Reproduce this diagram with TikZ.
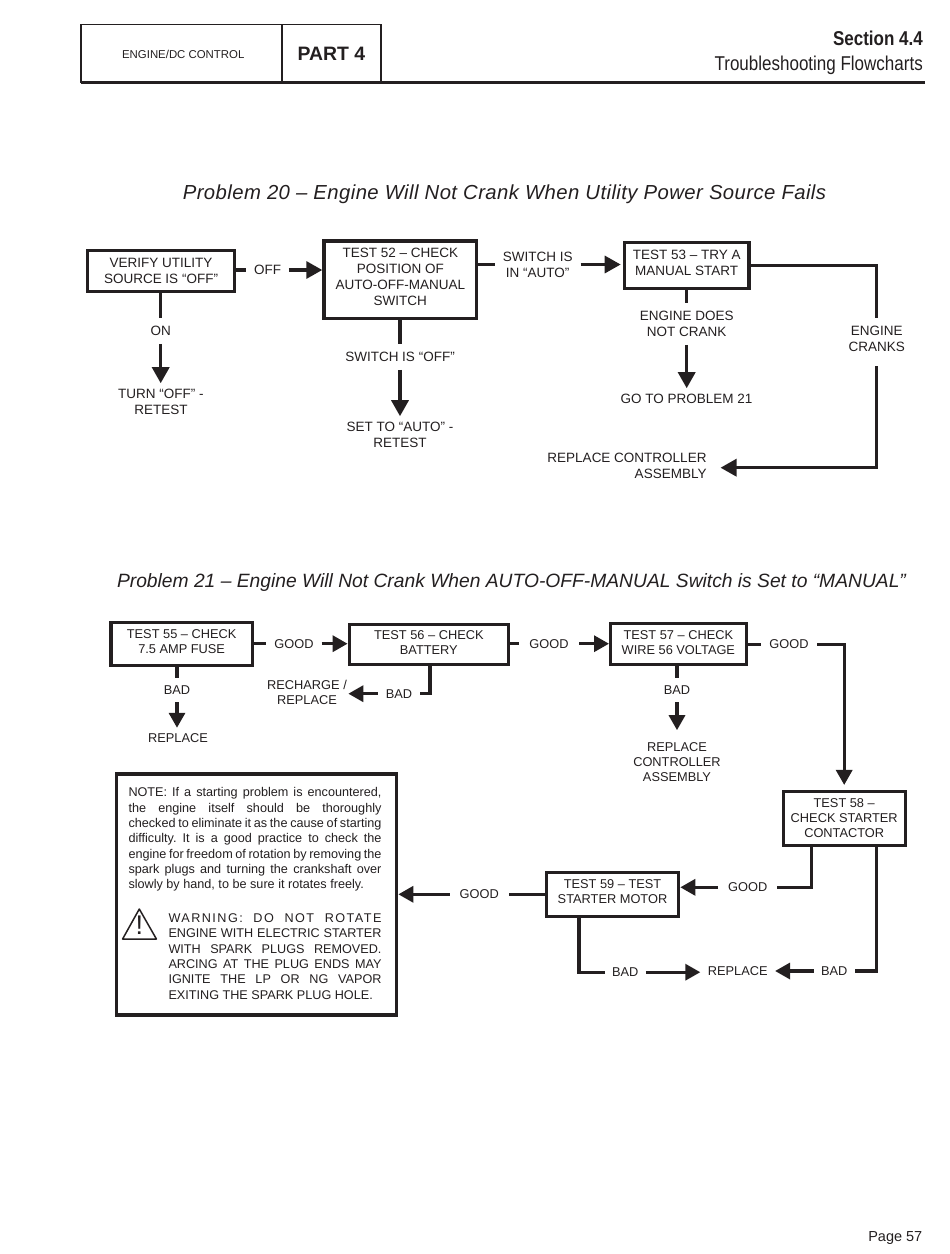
\documentclass[tikz,border=0pt]{standalone}
\usepackage{fontspec}
\setmainfont{Liberation Sans}
\newfontfamily\condfont[FakeStretch=0.85]{Liberation Sans}
\newfontfamily\ttlfont[LetterSpace=2.1]{Liberation Sans}
\usetikzlibrary{arrows.meta}
\definecolor{ink}{HTML}{231F20}
\newcommand{\fa}{\fontsize{13.5pt}{16pt}\selectfont}
\newcommand{\fb}{\fontsize{12.8pt}{15pt}\selectfont}
\newcommand{\fn}{\fontsize{12.65pt}{15.35pt}\selectfont\frenchspacing\spaceskip=.278em plus 1em minus .2em\relax}
\newcommand{\jl}[2][253pt]{\hbox to #1{#2}}
\newcommand{\dnn}[1]{\rule[-#1pt]{0pt}{0pt}}
\tikzset{
  every node/.style={text=ink},
  box/.style={draw=ink,fill=white,line width=3.4pt,inner sep=0pt,align=center,font=\fa},
  boxb/.style={box,line width=3pt,font=\fb},
  lab/.style={inner xsep=8pt,inner ysep=8pt,align=center,outer sep=0pt,font=\fa},
  labb/.style={lab,font=\fb},
  res/.style={inner xsep=2pt,inner ysep=6pt,align=center,outer sep=0pt,font=\fa},
  resb/.style={res,font=\fb},
  wire/.style={draw=ink,line width=3.3pt},
  arr/.style={wire,-{Triangle[length=16pt,width=17pt]}},
  arrb/.style={wire,-{Triangle[length=15pt,width=16pt]}},
  hdr/.style={draw=ink,line width=1.4pt,inner sep=0pt,outer sep=0pt}
}
\begin{document}
\begin{tikzpicture}[x=1pt,y=-1pt]
\useasboundingbox (0,0) rectangle (950,1254);
% header
\node[hdr,minimum width=201,minimum height=58,font=\fontsize{11.4pt}{15pt}\selectfont] (eng) at (181.5,53.5) {\kern3.5pt\rule{0pt}{10.3pt}ENGINE/DC CONTROL};
\node[hdr,minimum width=99,minimum height=58,font=\fontsize{19.4pt}{22pt}\selectfont\bfseries] (part) at (331.5,53.5) {PART 4};
\coordinate (ruleend) at (925,82);
\draw[ink,line width=3pt] (eng.south west) -- (eng.south west -| ruleend);
\node[anchor=base east,inner sep=0pt,font=\fontsize{20pt}{22pt}\condfont\bfseries] (sec) at (923,45.5) {Section 4.4};
\node[anchor=base east,inner sep=0pt,font=\fontsize{20pt}{22pt}\condfont] (trb) at (923,70) {Troubleshooting Flowcharts};
% titles
\node[font=\fontsize{20.3pt}{24pt}\ttlfont\itshape,inner sep=0pt] (p20) at (504.5,194.5) {Problem 20 – Engine Will Not Crank When Utility Power Source Fails};
\node[font=\fontsize{19.25pt}{24pt}\selectfont\itshape,inner sep=0pt] (p21) at (511.5,582.5) {Problem 21 – Engine Will Not Crank When AUTO-OFF-MANUAL Switch is Set to “MANUAL”};
% Problem 20 boxes
\node[box,minimum width=146.8,minimum height=40.8] (verify) at (161,271.1) {VERIFY UTILITY\\SOURCE IS “OFF”};
\node[box,minimum width=152.6,minimum height=77.3] (t52) at (400.3,279.6) {TEST 52 – CHECK\\POSITION OF\\AUTO-OFF-MANUAL\\SWITCH\dnn{6}};
\node[box,minimum width=124.6,minimum height=45.8] (t53) at (686.7,265.3) {TEST 53 – TRY A\\MANUAL START\dnn{6}};
% Problem 20 labels
\node[lab] (off) at (267.5,270) {OFF};
\node[lab] (on) at (160.7,331) {ON};
\node[res] (turn) at (160.9,402) {TURN “OFF” -\\RETEST};
\node[lab] (swoff) at (400,357) {SWITCH IS “OFF”};
\node[res] (setauto) at (400,435) {SET TO “AUTO” -\\RETEST};
\node[lab] (swauto) at (537.7,264.5) {SWITCH IS\\IN “AUTO”};
\node[lab] (nocrank) at (686.7,324) {ENGINE DOES\\NOT CRANK};
\node[res] (go21) at (686.5,399) {GO TO PROBLEM 21};
\node[lab] (cranks) at (876.7,339) {ENGINE\\CRANKS};
\node[res,align=right,inner xsep=14pt] (repctl) at (627,466) {REPLACE CONTROLLER\\ASSEMBLY};
% Problem 20 connectors
\draw[wire] (verify.east |- off.west) -- (off.west);
\draw[arr] (off.east) -- (off.east -| t52.west);
\draw[wire] (on.north |- verify.south) -- (on.north);
\draw[arr] (on.south) -- (on.south |- turn.north);
\draw[wire] (swoff.north |- t52.south) -- (swoff.north);
\draw[arr] (swoff.south) -- (swoff.south |- setauto.north);
\draw[wire] (t52.east |- swauto.west) -- (swauto.west);
\draw[arr,shorten >=2pt] (swauto.east) -- (swauto.east -| t53.west);
\draw[wire] (nocrank.north |- t53.south) -- (nocrank.north);
\draw[arr] (nocrank.south) -- (nocrank.south |- go21.north);
\draw[wire] (t53.east) -| (cranks.north);
\draw[arr,shorten <=6.5pt] (cranks.south) |- ([yshift=-1.7pt]repctl.east);
% Problem 21 boxes
\node[boxb,line width=3.5pt,minimum width=141.8,minimum height=42.8] (t55) at (181.65,644.1) {TEST 55 – CHECK\\7.5 AMP FUSE\dnn{6}};
\node[boxb,minimum width=159.5,minimum height=40.5] (t56) at (428.85,644.3) {TEST 56 – CHECK\\BATTERY\dnn{3}};
\node[boxb,minimum width=135.7,minimum height=40.4] (t57) at (678.35,644) {TEST 57 – CHECK\\WIRE 56 VOLTAGE\dnn{2}};
\node[boxb,minimum width=122,minimum height=54.3] (t58) at (844.2,818.6) {TEST 58 –\\CHECK STARTER\\CONTACTOR\dnn{2}};
\node[boxb,minimum width=132.6,minimum height=43.7] (t59) at (612.5,894.6) {TEST 59 – TEST\\STARTER MOTOR\dnn{6}};
\node[draw=ink,line width=3.3pt,minimum width=280,minimum height=241,inner sep=0pt] (note) at (256.7,894.5) {};
\node[anchor=north west,inner sep=0pt,align=left,font=\fn] (notetext) at (128.3,787.5) {%
\jl{NOTE: If a starting problem is encountered,}\\
\jl{the engine itself should be thoroughly}\\
\jl{checked to eliminate it as the cause of starting}\\
\jl{difficulty. It is a good practice to check the}\\
\jl{engine for freedom of rotation by removing the}\\
\jl{spark plugs and turning the crankshaft over}\\
\hbox{slowly by hand, to be sure it rotates freely.}};
\node[anchor=north west,inner sep=0pt,align=left,font=\fn] (warntext) at (168.3,913.3) {%
\jl[213pt]{\addfontfeature{LetterSpace=11.5}WARNING: DO NOT ROTATE}\\
\jl[213pt]{ENGINE WITH ELECTRIC STARTER}\\
\jl[213pt]{WITH SPARK PLUGS REMOVED.}\\
\jl[213pt]{ARCING AT THE PLUG ENDS MAY}\\
\jl[213pt]{IGNITE THE LP OR NG VAPOR}\\
\hbox{EXITING THE SPARK PLUG HOLE.}};
\draw[ink,line width=1.5pt,line join=round] (139.3,909) -- (122.6,939) -- (156.4,939) -- cycle;
\node[inner sep=0pt,font=\fontsize{27pt}{27pt}\selectfont] (excl) at (139.3,925.5) {!};
% Problem 21 labels
\node[labb] (g1) at (294,643.7) {GOOD};
\node[labb] (b1) at (177,690) {BAD};
\node[resb] (rep1) at (178,738.3) {REPLACE};
\node[labb] (b2) at (399,693.7) {BAD};
\node[resb,inner xsep=1.5pt] (rech) at (307,692.7) {RECHARGE /\\REPLACE};
\node[labb,inner xsep=10.5pt] (g2) at (549,643.7) {GOOD};
\node[labb,inner xsep=8.5pt] (g3) at (789,644.3) {GOOD};
\node[labb] (b3) at (677,690) {BAD};
\node[resb,inner ysep=12pt] (rep2) at (677,761.7) {REPLACE\\CONTROLLER\\ASSEMBLY};
\node[labb,inner xsep=10pt] (g4) at (747.7,887.3) {GOOD};
\node[labb,inner xsep=7.5pt] (b4) at (834.3,971) {BAD};
\node[resb,inner xsep=7.5pt] (rep3) at (737.7,971) {REPLACE};
\node[labb,inner xsep=7.5pt] (b5) at (625.3,972.2) {BAD};
\node[labb,inner xsep=10pt] (g5) at (479.3,894.3) {GOOD};
% Problem 21 connectors
\draw[wire] (t55.east |- g1.west) -- (g1.west);
\draw[arrb] (g1.east) -- (g1.east -| t56.west);
\draw[wire] (b1.north |- t55.south) -- (b1.north);
\draw[arrb] (b1.south) -- (b1.south |- rep1.north);
\draw[wire] ([xshift=1.2pt]t56.south) |- (b2.east);
\draw[arrb] (b2.west) -- (b2.west -| rech.east);
\draw[wire] (t56.east |- g2.west) -- (g2.west);
\draw[arrb] (g2.east) -- (g2.east -| t57.west);
\draw[wire] (t57.east |- g3.west) -- (g3.west);
\draw[arrb,shorten >=5pt] (g3.east) -| (t58.north);
\draw[wire] (b3.north |- t57.south) -- (b3.north);
\draw[arrb] (b3.south) -- (b3.south |- rep2.north);
\draw[wire] ([xshift=-32.5pt]t58.south) |- (g4.east);
\draw[arrb] (g4.west) -- (g4.west -| t59.east);
\draw[wire] ([xshift=32.5pt]t58.south) |- (b4.east);
\draw[arrb] (b4.west) -- (rep3.east);
\draw[wire] ([xshift=-33.5pt]t59.south) |- (b5.west);
\draw[arrb] (b5.east) -- (b5.east -| rep3.west);
\draw[wire] (t59.west |- g5.east) -- (g5.east);
\draw[arrb] (g5.west) -- (g5.west -| note.east);
% page number
\node[anchor=base east,inner sep=0pt,font=\fontsize{14.5pt}{16pt}\selectfont] (page) at (922.5,1241) {Page 57};
\end{tikzpicture}
\end{document}
